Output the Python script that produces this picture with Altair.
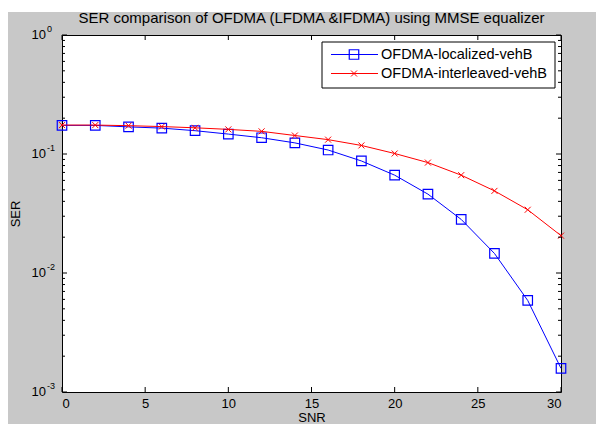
import altair as alt
import pandas as pd

# ---- data ----
snr = [0, 2, 4, 6, 8, 10, 12, 14, 16, 18, 20, 22, 24, 26, 28, 30]
ser_localized = [0.174, 0.174, 0.169, 0.165, 0.157, 0.147, 0.137, 0.124, 0.108,
                 0.0874, 0.0664, 0.046, 0.0282, 0.0146, 0.00588, 0.00158]
ser_interleaved = [0.175, 0.175, 0.173, 0.170, 0.166, 0.161, 0.155, 0.143, 0.132,
                   0.118, 0.101, 0.0847, 0.0664, 0.0490, 0.0340, 0.0206]
series_names = ["OFDMA-localized-vehB", "OFDMA-interleaved-vehB"]
title_text = "SER comparison of OFDMA (LFDMA &IFDMA) using MMSE equalizer"
x_ticks = [0, 5, 10, 15, 20, 25, 30]
y_major = [1e-3, 1e-2, 1e-1, 1e0]
y_exps = ["-3", "-2", "-1", "0"]
y_minor = [k * 10.0 ** e for e in (-3, -2, -1) for k in range(2, 10)]

W, H = 499, 357
TOP = 27
FONT = "Liberation Sans"
BLUE, RED = "#0000ff", "#ff0000"

xs = alt.Scale(domain=[0, 30], nice=False, zero=False)
ys = alt.Scale(type="log", domain=[1e-3, 1], nice=False)

df_l = pd.DataFrame({"snr": snr, "ser": ser_localized})
df_i = pd.DataFrame({"snr": snr, "ser": ser_interleaved})

xenc = alt.X("snr:Q", scale=xs,
             axis=alt.Axis(values=x_ticks, ticks=False, grid=False, domain=False,
                           labelFont=FONT, labelFontSize=13, labelColor="#000",
                           labelPadding=5, title="SNR", titleFont=FONT,
                           titleFontSize=13, titleFontWeight="normal",
                           titleColor="#000", titlePadding=1))
yenc = alt.Y("ser:Q", scale=ys,
             axis=alt.Axis(labels=False, ticks=False, grid=False, domain=False,
                           title="SER", titleFont=FONT, titleFontSize=13,
                           titleFontWeight="normal", titleColor="#000",
                           titlePadding=40))

line_l = alt.Chart(df_l).mark_line(color=BLUE, strokeWidth=1).encode(x=xenc, y=yenc)
pts_l = alt.Chart(df_l).mark_point(shape="square", size=90, filled=False,
                                   color=BLUE, strokeWidth=1.2, opacity=1).encode(
    x=alt.X("snr:Q", scale=xs), y=alt.Y("ser:Q", scale=ys))
XPATH = "M-1,-1L1,1M-1,1L1,-1"
line_i = alt.Chart(df_i).mark_line(color=RED, strokeWidth=1).encode(
    x=alt.X("snr:Q", scale=xs), y=alt.Y("ser:Q", scale=ys))
pts_i = alt.Chart(df_i).mark_point(shape=XPATH, size=36, filled=False,
                                   color=RED, strokeWidth=1, opacity=1).encode(
    x=alt.X("snr:Q", scale=xs), y=alt.Y("ser:Q", scale=ys))

# inward ticks (MATLAB style, box on)
dx = pd.DataFrame({"t": x_ticks})
xt_bot = alt.Chart(dx).mark_rule(color="black", strokeWidth=1).encode(
    x=alt.X("t:Q", scale=xs), y=alt.value(H), y2=alt.value(H - 5))
xt_top = alt.Chart(dx).mark_rule(color="black", strokeWidth=1).encode(
    x=alt.X("t:Q", scale=xs), y=alt.value(0), y2=alt.value(5))
dym = pd.DataFrame({"t": y_major, "e": y_exps})
dyn = pd.DataFrame({"t": y_minor})
yt = []
for d, ln in ((dym, 5), (dyn, 3)):
    yt.append(alt.Chart(d).mark_rule(color="black", strokeWidth=1).encode(
        y=alt.Y("t:Q", scale=ys), x=alt.value(0), x2=alt.value(ln)))
    yt.append(alt.Chart(d).mark_rule(color="black", strokeWidth=1).encode(
        y=alt.Y("t:Q", scale=ys), x=alt.value(W), x2=alt.value(W - ln)))

# y tick labels 10^n with superscripts
lab_base = alt.Chart(dym).mark_text(font=FONT, fontSize=13, color="#000",
                                    align="right", baseline="middle").encode(
    y=alt.Y("t:Q", scale=ys), x=alt.value(-16), text=alt.value("10"))
lab_exp = alt.Chart(dym).mark_text(font=FONT, fontSize=9, color="#000",
                                   align="left", baseline="middle", dy=-6).encode(
    y=alt.Y("t:Q", scale=ys), x=alt.value(-15), text="e:N")

one = pd.DataFrame({"a": [0]})
# white page strip above the grey figure
strip = alt.Chart(one).mark_rect(fill="white").encode(
    x=alt.value(-60), x2=alt.value(560), y=alt.value(-TOP - 2), y2=alt.value(-TOP + 4))
# title
title = alt.Chart(one).mark_text(font=FONT, fontSize=15, color="#000",
                                 align="center", baseline="middle").encode(
    x=alt.value(W / 2), y=alt.value(-17), text=alt.value(title_text))

# legend
leg = [alt.Chart(one).mark_rect(fill="white", stroke="black", strokeWidth=1).encode(
    x=alt.value(260), x2=alt.value(493), y=alt.value(7), y2=alt.value(53))]
for name, col, shp, sz, ry in ((series_names[0], BLUE, "square", 90, 19.5),
                                (series_names[1], RED, XPATH, 36, 38.5)):
    leg.append(alt.Chart(one).mark_rule(color=col, strokeWidth=1).encode(
        x=alt.value(269), x2=alt.value(316), y=alt.value(ry)))
    leg.append(alt.Chart(one).mark_point(shape=shp, size=sz, filled=False, color=col,
                                         strokeWidth=1.2 if shp == "square" else 1,
                                         opacity=1).encode(
        x=alt.value(292), y=alt.value(ry)))
    leg.append(alt.Chart(one).mark_text(font=FONT, fontSize=14.5, color="#000",
                                        align="left", baseline="middle").encode(
        x=alt.value(319), y=alt.value(ry), text=alt.value(name)))

chart = alt.layer(strip, line_l, pts_l, line_i, pts_i, xt_bot, xt_top, *yt,
                  lab_base, lab_exp, title, *leg).properties(
    width=W, height=H,
    autosize=alt.AutoSizeParams(type="none"),
    padding={"left": 54, "top": TOP, "right": 35, "bottom": 416 - TOP - H},
    background="#c8c8c8",
).configure_view(fill="white", stroke="black", strokeWidth=1)

chart.save("out.html", embed_options={"renderer": "svg", "actions": False})
